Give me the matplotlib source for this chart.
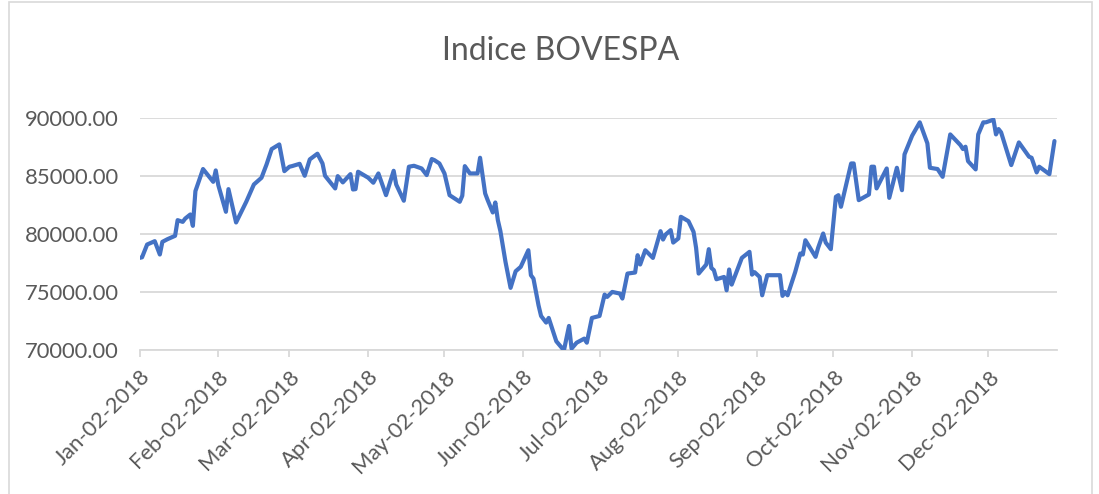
import numpy as np
import pandas as pd
import matplotlib
matplotlib.use('Agg')
from matplotlib import pyplot as plt
from matplotlib.patches import Rectangle

# days since Jan-02-2018 and closing value
dias = [0, 1, 3, 6, 8, 9, 11, 14, 15, 17, 18, 20, 21, 22, 25, 29, 30, 31, 34, 35, 38, 42, 45, 48, 50, 52, 55, 57, 59,
        60, 63, 65, 67, 70, 72, 73, 77, 78, 80, 83, 84, 85, 86, 90, 92, 94, 97, 100, 101, 104, 106, 108, 111, 113, 115, 116, 118,
        120, 122, 126, 127, 128, 130, 133, 134, 136, 137, 139, 140, 141, 142, 144, 146, 148, 150, 153, 154, 155, 157, 158, 160,
        161, 164, 167, 169, 170, 172, 175, 176, 178,
        181, 183, 184, 186, 189, 190, 192, 195, 196, 197, 199, 202, 205, 206, 207, 209, 210, 212, 213, 216, 218, 219, 220, 223,
        224, 225, 226, 227, 230, 231, 232, 233, 237,
        240, 241, 242, 244, 245, 247, 252, 253, 254, 255, 258, 260, 261, 262, 266, 267, 269, 270, 272, 274, 275, 276, 280, 281,
        283, 287, 288, 289, 290, 294, 295, 298,
        300, 301, 304, 307, 310, 311, 314, 316, 319, 323, 324, 325, 326, 329, 330, 332, 333, 336, 337, 338, 339, 343, 346, 350,
        351, 353, 354, 358, 360]
cierre = [77930, 77980, 79080, 79370, 78220, 79310, 79540, 79830, 81180, 81030, 81320, 81670, 80690, 83680, 85580, 84480,
          85460, 84200, 81900, 83850, 80980, 82760, 84250, 84830, 85980, 87300, 87700, 85400, 85780,
          85830, 86030, 85000, 86410, 86900, 86060, 85000, 83910, 84970, 84430, 85140, 83820, 83850, 85350, 84830, 84400,
          85200, 83330, 85430, 84250, 82850, 85780, 85860, 85630, 85060, 86440, 86350, 86060,
          85200, 83330, 82760, 83280, 85830, 85200, 85200, 86550, 83480, 82900, 81840, 82700, 81180, 80230, 77590, 75350,
          76780, 77160, 78590, 76440, 76150, 73850, 72930, 72360, 72760, 70750, 69970, 72070, 70120, 70630, 70980, 70630, 72760,
          72930, 74770, 74570, 75000, 74860, 74430, 76580, 76670, 78160, 77360, 78590, 77930, 80230, 79510, 79940, 80320,
          79250, 79600, 81470, 81090, 80170, 78790, 76580, 77360, 78680, 77070, 76870, 76090, 76290, 75140, 76930, 75630, 77930,
          78450, 76490, 76700, 76290, 74710, 76440, 76440, 74660, 74990, 74710, 76720, 78310, 78220, 79450, 78020, 78790,
          80030, 79250, 78680, 83190, 83330, 82330, 86060, 86060, 82900, 83390, 85780, 85780, 83910, 85630, 83100, 85690,
          83760, 86840, 88450, 89600, 87790, 85690, 85580, 84910, 88560, 87640, 87300, 87500, 86260, 85550, 88560, 89600,
          89600, 89830, 88560, 89020, 88740, 85920, 87870, 86640, 86550, 85290, 85780, 85140, 87990]

meses = ['Jan', 'Feb', 'Mar', 'Apr', 'May', 'Jun', 'Jul', 'Aug', 'Sep', 'Oct', 'Nov', 'Dec']
yticks = [70000, 75000, 80000, 85000, 90000]

inicio = pd.Timestamp('2018-01-02')
fechas = inicio + pd.to_timedelta(dias, unit='D')
tick_fechas = [pd.Timestamp(2018, i + 1, 2) for i in range(12)]
tick_labels = [m + '-02-2018' for m in meses]

plt.rcParams['font.family'] = ['Lato', 'DejaVu Sans']
gris = '#595959'
linea = '#d9d9d9'

fig = plt.figure(figsize=(10.99, 4.94), dpi=100)
ax = fig.add_axes([139.5 / 1099, 1 - 350 / 494, (1057 - 139.5) / 1099, (350 - 117.7) / 494])

ax.plot(fechas, cierre, color='#4472C4', lw=3.0, solid_joinstyle='round', solid_capstyle='round', zorder=3)

ax.set_ylim(70000, 90000)
ax.set_xlim(inicio, inicio + pd.Timedelta(days=361))
ax.set_yticks(yticks)
ax.set_yticklabels(['%0.2f' % v for v in yticks])
ax.set_xticks(tick_fechas)
ax.set_xticklabels(tick_labels, rotation=45, ha='right', rotation_mode='anchor')

ax.grid(axis='y', color=linea, lw=1.3, zorder=0)
for s in ['top', 'right', 'left']:
    ax.spines[s].set_visible(False)
ax.spines['bottom'].set_color(linea)
ax.spines['bottom'].set_linewidth(1.3)
ax.tick_params(axis='y', length=0, pad=15, labelsize=15.8, labelcolor=gris)
ax.tick_params(axis='x', length=5, width=1.3, color=linea, pad=7, labelsize=15.8, labelcolor=gris)

fig.text(0.51, 1 - 51 / 494, 'Indice BOVESPA', ha='center', va='center', fontsize=23, color=gris)

fig.add_artist(Rectangle((9 / 1099, -0.02), (1092 - 9) / 1099, 1.016, transform=fig.transFigure,
                         fill=False, edgecolor=linea, lw=1.2))

fig.savefig('out.png', dpi=100)
